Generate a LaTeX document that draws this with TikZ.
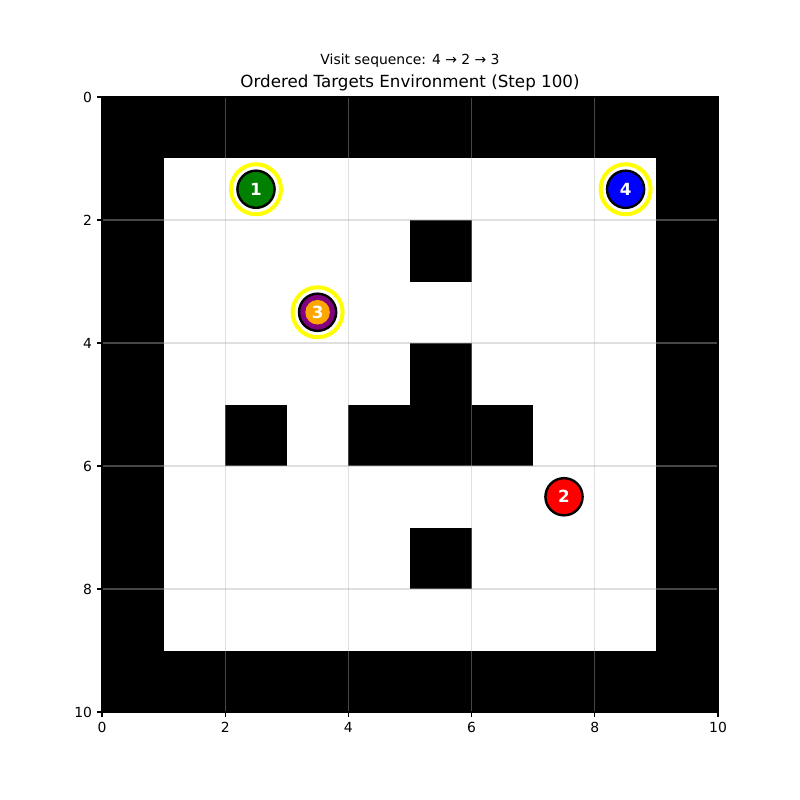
\documentclass[tikz,border=0pt]{standalone}
\usepackage{fontspec}
\setmainfont{DejaVu Sans}
\definecolor{mgreen}{HTML}{008000}
\definecolor{mblue}{HTML}{0000FF}
\definecolor{mred}{HTML}{FF0000}
\definecolor{mpurple}{HTML}{800080}
\definecolor{morange}{HTML}{FFA500}
\definecolor{myellow}{HTML}{FFFF00}
\definecolor{gridc}{HTML}{B0B0B0}
\tikzset{
  wall/.style={fill=black},
  gridline/.style={draw=gridc, line width=1.1pt, opacity=0.4},
  tick/.style={line width=1.1pt},
  ticklabel/.style={font=\fontsize{13.9pt}{16pt}\selectfont, inner sep=0pt},
  target/.style={circle, draw=black, line width=2.4pt, minimum size=37.2pt, inner sep=0pt,
    text=white, font=\fontsize{16.7pt}{18pt}\selectfont\bfseries},
  halo/.style={circle, draw=myellow, line width=4pt, minimum size=50pt, inner sep=0pt},
  inner/.style={circle, fill=morange, minimum size=24.6pt, inner sep=0pt,
    text=white, font=\fontsize{16.7pt}{18pt}\selectfont\bfseries},
}
\begin{document}
\begin{tikzpicture}[x=61.6pt, y=-61.5pt]
\useasboundingbox[fill=white] (-1.6558,-1.5772) rectangle (11.3312,11.4309);
% white field
\fill[white] (0,0) rectangle (10,10);
% border walls
\fill[wall] (0,0) rectangle (10,1);
\fill[wall] (0,9) rectangle (10,10);
\fill[wall] (0,0) rectangle (1,10);
\fill[wall] (9,0) rectangle (10,10);
% interior walls
\fill[wall] (5,2) rectangle (6,3);
\fill[wall] (5,4) rectangle (6,5);
\fill[wall] (2,5) rectangle (3,6);
\fill[wall] (4,5) rectangle (7,6);
\fill[wall] (5,7) rectangle (6,8);
% grid
\foreach \v in {2,4,6,8} {
  \draw[gridline] (\v,0) -- (\v,10);
  \draw[gridline] (0,\v) -- (10,\v);
}
% frame
\draw[line width=1.1pt] (0,0) rectangle (10,10);
% ticks and labels
\foreach \v in {0,2,4,6,8,10} {
  \draw[tick] (\v,10) -- ++(0,0.079);
  \node[ticklabel, anchor=north] (xl\v) at (\v,10.158) {\v};
  \draw[tick] (0,\v) -- ++(-0.079,0);
  \node[ticklabel, anchor=east] (yl\v) at (-0.158,\v) {\v};
}
% titles
\node[font=\fontsize{16.7pt}{19pt}\selectfont, inner sep=0pt] (title) at (5,-0.232) {Ordered Targets Environment (Step 100)};
\node[font=\fontsize{13.9pt}{16pt}\selectfont, inner sep=0pt] (suptitle) at (5,-0.59) {Visit sequence: 4 → 2 → 3};
% targets
\node[halo] (h1) at (2.5,1.5) {};
\node[target, fill=mgreen] (t1) at (2.5,1.5) {1};
\node[halo] (h4) at (8.5,1.5) {};
\node[target, fill=mblue] (t4) at (8.5,1.5) {4};
\node[halo] (h3) at (3.5,3.5) {};
\node[target, fill=mpurple] (t3) at (3.5,3.5) {};
\node[inner] (t3i) at (3.5,3.5) {3};
\node[target, fill=mred] (t2) at (7.5,6.5) {2};
\end{tikzpicture}
\end{document}
